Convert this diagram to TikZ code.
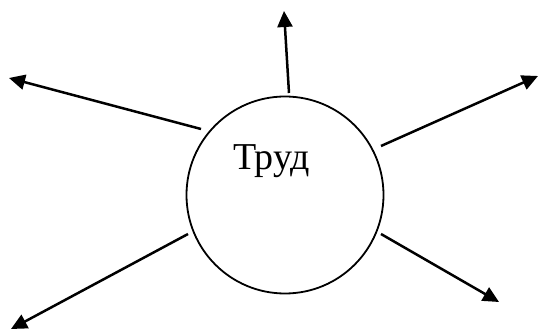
\documentclass[tikz,border=0pt]{standalone}
\usepackage{fontspec}
\setmainfont{Liberation Serif}
\usetikzlibrary{arrows.meta}
\begin{document}
\begin{tikzpicture}[x=1pt,y=-1pt,
  ray/.style={line width=2.5pt,-{Triangle[length=16pt,width=15pt]}},
  hub/.style={circle,draw,line width=1.8pt,minimum size=197pt,inner sep=0pt}]
  \useasboundingbox (0,0) rectangle (539,331);
  % central circle and its label
  \node[hub] (c) at (285,195) {};
  \node[anchor=base west,inner sep=0pt,font=\fontsize{38}{42}\selectfont] (lbl) at (233,170) {Труд};
  % start points just outside the circle
  \coordinate (s1) at (289,93);
  \coordinate (s2) at (201,129);
  \coordinate (s3) at (381,146);
  \coordinate (s4) at (188,234);
  \coordinate (s5) at (381,234);
  % arrow tips
  \coordinate (e1) at (284,11);
  \coordinate (e2) at (9,78);
  \coordinate (e3) at (538,76);
  \coordinate (e4) at (11,329);
  \coordinate (e5) at (499,302);
  \foreach \i in {1,...,5} \draw[ray] (s\i) -- (e\i);
\end{tikzpicture}
\end{document}
